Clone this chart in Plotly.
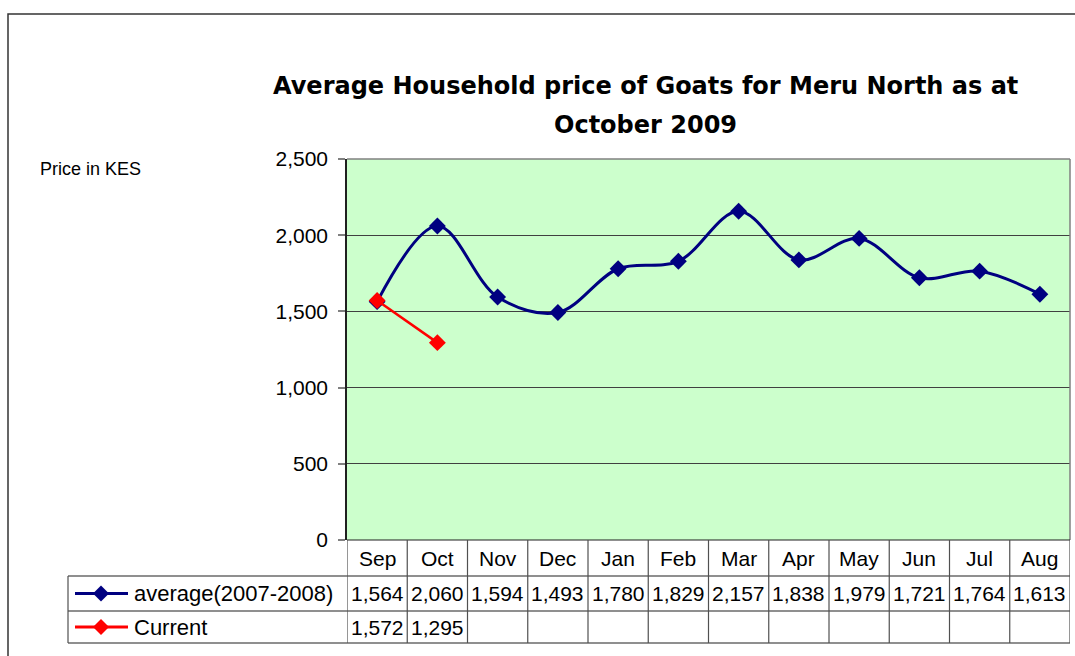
import plotly.graph_objects as go

months = ["Sep", "Oct", "Nov", "Dec", "Jan", "Feb", "Mar", "Apr", "May", "Jun", "Jul", "Aug"]
avg_name = "average(2007-2008)"
avg_values = [1564, 2060, 1594, 1493, 1780, 1829, 2157, 1838, 1979, 1721, 1764, 1613]
cur_name = "Current"
cur_values = [1572, 1295]
title_line1 = "Average Household price of Goats for Meru North as at"
title_line2 = "October 2009"
y_title = "Price in KES"

W, H = 1075, 656
PL, PR, PT, PB = 347, 1070, 159, 540  # plot area in pixels
pw, ph = PR - PL, PB - PT


def px(x):
    return (x - PL) / pw


def py(y):
    return (PB - y) / ph


NAVY = "#000080"
RED = "#FF0000"
GRID = "#404040"
FONT = "Liberation Sans, Arial, sans-serif"

fig = go.Figure()
x_idx = list(range(len(months)))
fig.add_trace(go.Scatter(
    x=x_idx, y=avg_values, mode="lines+markers", name=avg_name,
    line=dict(color=NAVY, width=3, shape="spline", smoothing=1.0),
    marker=dict(symbol="diamond", size=13, color=NAVY),
))
fig.add_trace(go.Scatter(
    x=x_idx[:len(cur_values)], y=cur_values, mode="lines+markers", name=cur_name,
    line=dict(color=RED, width=2.5),
    marker=dict(symbol="diamond", size=13, color=RED),
))

shapes = []
annotations = []

# outer frame
shapes.append(dict(type="rect", xref="paper", yref="paper",
                   x0=px(8), x1=px(1085), y0=py(14), y1=py(670),
                   line=dict(color="#333333", width=1.5), fillcolor="rgba(0,0,0,0)", layer="below"))

# plot border top/right (gray)
shapes.append(dict(type="line", xref="paper", yref="paper", x0=0, x1=1, y0=1, y1=1,
                   line=dict(color="#808080", width=1.5)))
shapes.append(dict(type="line", xref="paper", yref="paper", x0=1, x1=1, y0=0, y1=1,
                   line=dict(color="#808080", width=1.5)))

# data table
r_head_top, r_head_bot, r_avg_bot, r_cur_bot = 540, 576, 611, 643
tl = 68
for yy, x0 in [(r_head_top, PL), (r_head_bot, tl), (r_avg_bot, tl), (r_cur_bot, tl)]:
    shapes.append(dict(type="line", xref="paper", yref="paper", x0=px(x0), x1=1,
                       y0=py(yy), y1=py(yy), line=dict(color="#202020", width=1.2)))
for k in range(len(months) + 1):
    shapes.append(dict(type="line", xref="x", yref="paper", x0=k - 0.5, x1=k - 0.5,
                       y0=py(r_head_top), y1=py(r_cur_bot), line=dict(color="#505050", width=1.2)))
shapes.append(dict(type="line", xref="paper", yref="paper", x0=px(tl), x1=px(tl),
                   y0=py(r_head_bot), y1=py(r_cur_bot), line=dict(color="#505050", width=1.2)))

row_c = {"head": (r_head_top + r_head_bot) / 2, "avg": (r_head_bot + r_avg_bot) / 2,
         "cur": (r_avg_bot + r_cur_bot) / 2}


def text_ann(x, y, text, size=21, xref="paper", xanchor="center", family=FONT):
    return dict(x=x, y=y, xref=xref, yref="paper", text=text, showarrow=False,
                xanchor=xanchor, yanchor="middle",
                font=dict(family=family, size=size, color="black"))


for i, m in enumerate(months):
    annotations.append(text_ann(i, py(row_c["head"]), m, xref="x"))
for i, v in enumerate(avg_values):
    annotations.append(text_ann(i, py(row_c["avg"]), f"{v:,}", xref="x"))
for i, v in enumerate(cur_values):
    annotations.append(text_ann(i, py(row_c["cur"]), f"{v:,}", xref="x"))

# legend keys in table
for key, col, name in [("avg", NAVY, avg_name), ("cur", RED, cur_name)]:
    yc = py(row_c[key])
    shapes.append(dict(type="line", xref="paper", yref="paper", x0=px(75), x1=px(128),
                       y0=yc, y1=yc, line=dict(color=col, width=3)))
    d = 8
    cx, cy = 101, row_c[key]
    path = (f"M {px(cx)} {py(cy - d)} L {px(cx + d)} {py(cy)} "
            f"L {px(cx)} {py(cy + d)} L {px(cx - d)} {py(cy)} Z")
    shapes.append(dict(type="path", xref="paper", yref="paper", path=path,
                       fillcolor=col, line=dict(color=col, width=0)))
    annotations.append(text_ann(px(132), yc, name, size=22, xanchor="left"))

# title
TFONT = "Comic Sans MS, DejaVu Sans, sans-serif"
annotations.append(text_ann(px(645), py(86), f"<b>{title_line1}</b>", size=24, family=TFONT))
annotations.append(text_ann(px(645), py(125), f"<b>{title_line2}</b>", size=24, family=TFONT))
annotations.append(text_ann(px(38), py(169), y_title, size=18, xanchor="left"))

fig.update_layout(
    width=W, height=H, autosize=False,
    margin=dict(l=PL, r=W - PR, t=PT, b=H - PB, pad=0),
    paper_bgcolor="white", plot_bgcolor="#CCFFCC",
    showlegend=False, shapes=shapes, annotations=annotations,
    xaxis=dict(range=[-0.5, len(months) - 0.5], showticklabels=False, showgrid=False,
               zeroline=False, showline=False, fixedrange=True),
    yaxis=dict(range=[0, 2500], dtick=500, tickformat=",", showgrid=True, gridcolor=GRID,
               gridwidth=1, zeroline=False, showline=True, linecolor="#202020", linewidth=1.5,
               ticks="outside", ticklen=7, tickcolor="#808080", tickwidth=1.5,
               ticklabelstandoff=6,
               tickfont=dict(family=FONT, size=21, color="black"), fixedrange=True),
)

fig.write_html("out.html", config={"displayModeBar": False},
               post_script="document.body.style.margin='0';")
